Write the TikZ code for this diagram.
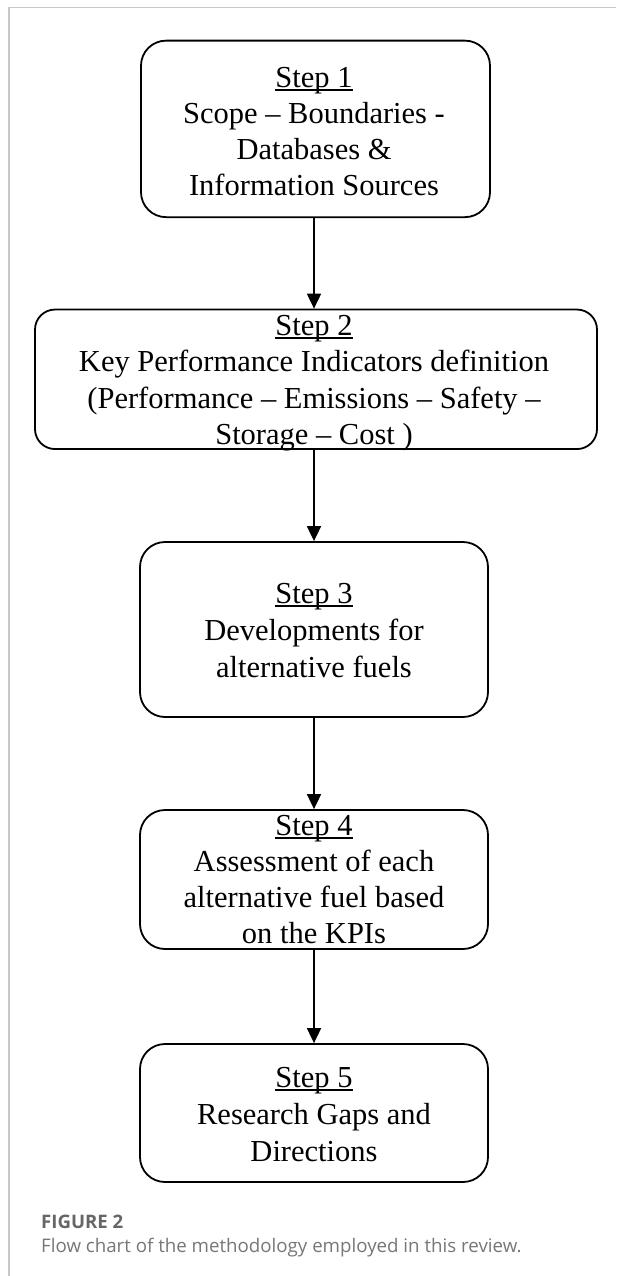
\documentclass[tikz,border=0pt]{standalone}
\usepackage{fontspec}
\setmainfont{Liberation Serif}
\newfontfamily\capfont{Open Sans}
\usetikzlibrary{arrows.meta}
\definecolor{framegray}{HTML}{C8C8C8}
\definecolor{capdark}{HTML}{666666}
\definecolor{caplight}{HTML}{777777}
\newcommand\stepul[1]{\setbox0\hbox{#1}\rlap{\rule[-3.5pt]{\wd0}{1.5pt}}\box0}
\begin{document}
\begin{tikzpicture}[x=1pt,y=-1pt,
  stepbox/.style={draw=black, line width=1.8pt, rounded corners=#1, inner sep=0pt},
  txt/.style={inner sep=0pt, anchor=base, font=\fontsize{30.5}{#1}\selectfont},
  arr/.style={line width=1.8pt, -{Triangle[length=15pt,width=14pt]}},
  capstyle/.style={inner sep=0pt, anchor=base west}]
\useasboundingbox (0,0) rectangle (616,1276);
\fill[white] (0,0) rectangle (616,1276);
\draw[framegray, line width=1.5pt] (9,1276) -- (9,7.5) -- (616,7.5);

% boxes
\node[stepbox=25pt, minimum width=349pt, minimum height=176.5pt] (b1) at (315.5,128.9) {};
\node[stepbox=20pt, minimum width=562pt, minimum height=139.5pt] (b2) at (316,379.3) {};
\node[stepbox=25pt, minimum width=348pt, minimum height=175pt] (b3) at (314,629.5) {};
\node[stepbox=25pt, minimum width=348pt, minimum height=139pt] (b4) at (314,879.5) {};
\node[stepbox=25pt, minimum width=348pt, minimum height=138pt] (b5) at (314,1113) {};

% texts
\node[txt=36pt] (t1) at (314,87.5) {\begin{tabular}[t]{@{}c@{}}\stepul{Step 1}\\ Scope – Boundaries -\\ Databases \&\\ Information Sources\end{tabular}};
\node[txt=36.5pt] (t2) at (314,335) {\begin{tabular}[t]{@{}c@{}}\stepul{Step 2}\\ Key Performance Indicators definition\\ (Performance – Emissions – Safety –\\ Storage – Cost )\end{tabular}};
\node[txt=37pt] (t3) at (314,603) {\begin{tabular}[t]{@{}c@{}}\stepul{Step 3}\\ Developments for\\ alternative fuels\end{tabular}};
\node[txt=36pt] (t4) at (314,835) {\begin{tabular}[t]{@{}c@{}}\stepul{Step 4}\\ Assessment of each\\ alternative fuel based\\ on the KPIs\end{tabular}};
\node[txt=37pt] (t5) at (314,1087) {\begin{tabular}[t]{@{}c@{}}\stepul{Step 5}\\ Research Gaps and\\ Directions\end{tabular}};

% connectors
\coordinate (ax) at (314,0);
\draw[arr] (b1.south -| ax) -- (b2.north -| ax);
\draw[arr] (b2.south -| ax) -- (b3.north -| ax);
\draw[arr] (b3.south -| ax) -- (b4.north -| ax);
\draw[arr] (b4.south -| ax) -- (b5.north -| ax);

% caption
\node[capstyle, text=capdark, font=\capfont\bfseries\fontsize{18.6}{22}\selectfont] (cap1) at (41,1228.5) {FIGURE 2};
\node[capstyle, text=caplight, font=\capfont\fontsize{18.7}{22}\selectfont] (cap2) at (41,1252) {Flow chart of the methodology employed in this review.};
\end{tikzpicture}
\end{document}
